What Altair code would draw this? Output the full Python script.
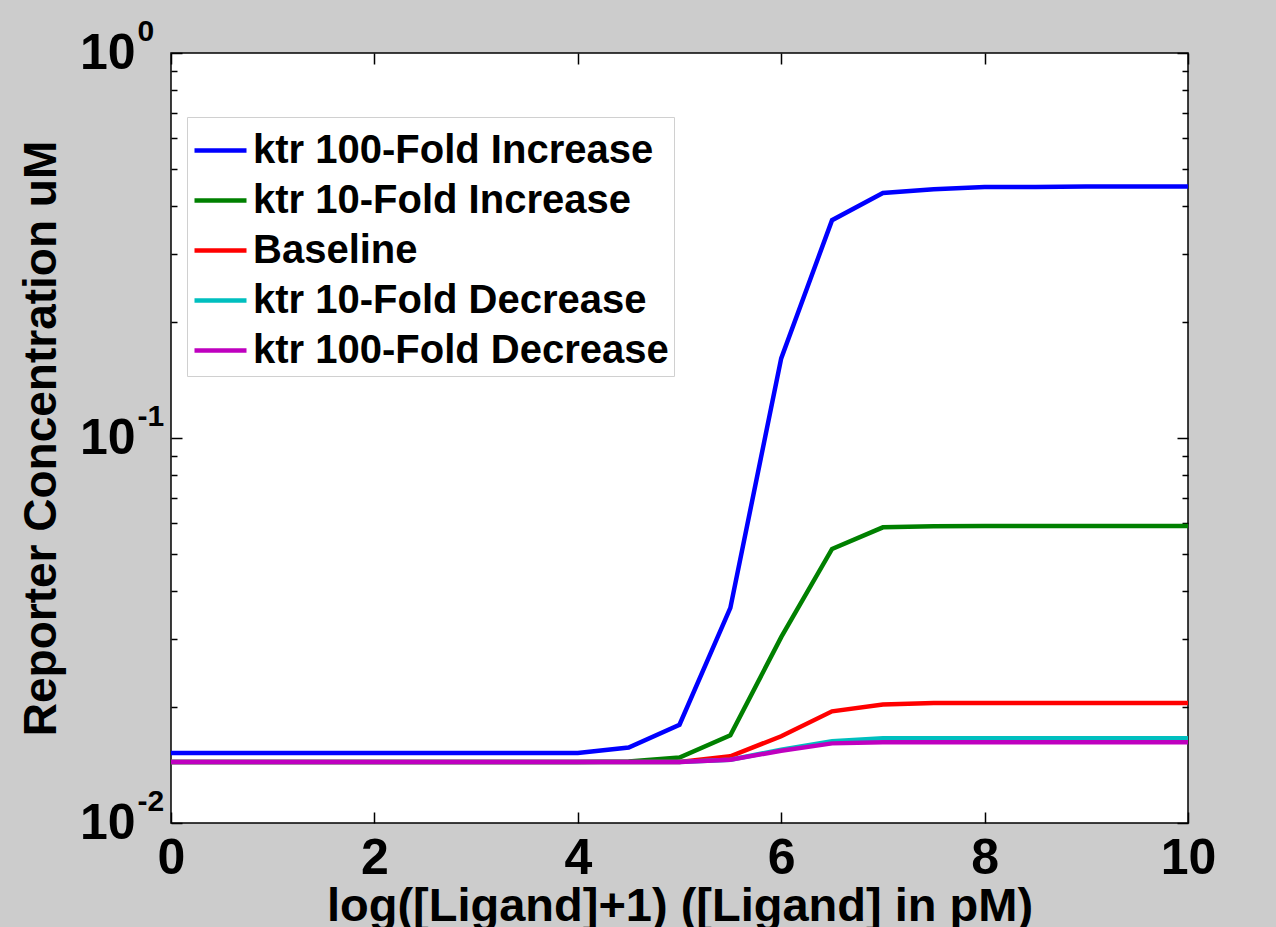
import altair as alt
import pandas as pd

# ---- data ----
x_vals = [0, 0.5, 1, 1.5, 2, 2.5, 3, 3.5, 4, 4.5, 5, 5.5, 6, 6.5, 7, 7.5, 8, 8.5, 9, 9.5, 10]

series_names = ["ktr 100-Fold Increase", "ktr 10-Fold Increase", "Baseline",
                "ktr 10-Fold Decrease", "ktr 100-Fold Decrease"]
series_colors = ["#0000ff", "#008000", "#ff0000", "#00bfbf", "#bf00bf"]

inc100 = [0.0152, 0.0152, 0.0152, 0.0152, 0.0152, 0.0152, 0.0152, 0.0152, 0.0152,
          0.0157, 0.0180, 0.0362, 0.161, 0.368, 0.433, 0.443, 0.449, 0.449, 0.450, 0.450, 0.450]
inc10 = [0.0144, 0.0144, 0.0144, 0.0144, 0.0144, 0.0144, 0.0144, 0.0144, 0.0144,
         0.01445, 0.0148, 0.0169, 0.0304, 0.0515, 0.0586, 0.0590, 0.0591, 0.0591, 0.0591, 0.0591, 0.0591]
baseline = [0.0144, 0.0144, 0.0144, 0.0144, 0.0144, 0.0144, 0.0144, 0.0144, 0.0144, 0.0144, 0.0144,
            0.0149, 0.0168, 0.0195, 0.0203, 0.0205, 0.0205, 0.0205, 0.0205, 0.0205, 0.0205]
dec10 = [0.0144, 0.0144, 0.0144, 0.0144, 0.0144, 0.0144, 0.0144, 0.0144, 0.0144, 0.0144, 0.0144,
         0.0146, 0.0155, 0.0163, 0.0166, 0.0166, 0.0166, 0.0166, 0.0166, 0.0166, 0.0166]
dec100 = [0.0144, 0.0144, 0.0144, 0.0144, 0.0144, 0.0144, 0.0144, 0.0144, 0.0144, 0.0144, 0.0144,
          0.0146, 0.0154, 0.0161, 0.0162, 0.0162, 0.0162, 0.0162, 0.0162, 0.0162, 0.0162]

x_ticks = [0, 2, 4, 6, 8, 10]
y_major = [0.01, 0.1, 1]
y_minor = [0.02, 0.03, 0.04, 0.05, 0.06, 0.07, 0.08, 0.09,
           0.2, 0.3, 0.4, 0.5, 0.6, 0.7, 0.8, 0.9]
y_exponents = ["-2", "-1", "0"]

x_title = "log([Ligand]+1) ([Ligand] in pM)"
y_title = "Reporter Concentration uM"

# ---- build table ----
rows = []
for name, vals in zip(series_names, [inc100, inc10, baseline, dec10, dec100]):
    for xv, yv in zip(x_vals, vals):
        rows.append({"x": xv, "y": yv, "series": name})
df = pd.DataFrame(rows)

FONT = "Liberation Sans"
xscale = alt.Scale(domain=[0, 10], nice=False, zero=False)
yscale = alt.Scale(type="log", domain=[0.01, 1], nice=False)

exp_expr = ("datum.value < 0.05 ? '%s' : (datum.value < 0.5 ? '%s' : '%s')"
            % (y_exponents[0], y_exponents[1], y_exponents[2]))

base = alt.Chart(df)

lines = base.mark_line(strokeWidth=4.5).encode(
    x=alt.X("x:Q", scale=xscale,
            axis=alt.Axis(orient="bottom", values=x_ticks, title=x_title, offset=-11,
                          tickSize=11, domain=False, grid=False, labelFlush=False,
                          labelFontSize=50, labelPadding=10, titleFontSize=47,
                          titlePadding=0)),
    y=alt.Y("y:Q", scale=yscale,
            axis=alt.Axis(orient="left", values=y_major, labelExpr="'10'", title=y_title,
                          offset=-11, tickSize=11, domain=False, grid=False,
                          labelFontSize=50, labelPadding=36, labelBaseline="middle",
                          titleFontSize=46, titlePadding=14)),
    color=alt.Color("series:N", scale=alt.Scale(domain=series_names, range=series_colors),
                    legend=alt.Legend(title=None, orient="none", legendX=16, legendY=64,
                                      fillColor="white", strokeColor="#d0d0d0", padding=5,
                                      symbolType="stroke", symbolSize=2704,
                                      symbolStrokeWidth=4.5, labelFontSize=40,
                                      labelFont=FONT, labelFontWeight="bold",
                                      labelColor="black", labelOffset=4, rowPadding=1,
                                      labelLimit=600)),
)

ghost = base.mark_point(opacity=0)

frame_major = ghost.encode(
    x=alt.X("x:Q", scale=xscale,
            axis=alt.Axis(orient="top", values=x_ticks, labels=False, title=None, offset=-11,
                          tickSize=11, domain=False, grid=False)),
    y=alt.Y("y:Q", scale=yscale,
            axis=alt.Axis(orient="right", values=y_major, labels=False, title=None,
                          offset=-11, tickSize=11, domain=False, grid=False)),
)

minor_left = ghost.encode(
    x=alt.X("x:Q", scale=xscale, axis=None),
    y=alt.Y("y:Q", scale=yscale,
            axis=alt.Axis(orient="left", values=y_minor, labels=False, title=None,
                          offset=-6, tickSize=6, domain=False, grid=False)),
)

minor_right = ghost.encode(
    x=alt.X("x:Q", scale=xscale, axis=None),
    y=alt.Y("y:Q", scale=yscale,
            axis=alt.Axis(orient="right", values=y_minor, labels=False, title=None,
                          offset=-6, tickSize=6, domain=False, grid=False)),
)

exponents = ghost.encode(
    x=alt.X("x:Q", scale=xscale, axis=None),
    y=alt.Y("y:Q", scale=yscale,
            axis=alt.Axis(orient="left", values=y_major, labelExpr=exp_expr, title=None,
                          ticks=False, tickSize=0, domain=False, grid=False,
                          labelAlign="left", labelBaseline="middle", labelFontSize=30,
                          labelPadding=34, labelOffset=-22)),
)

chart = alt.layer(lines, frame_major, minor_left, minor_right, exponents).resolve_axis(
    x="independent", y="independent"
).properties(
    width=1017, height=770, autosize="none", background="#cccccc",
    padding={"left": 171, "top": 53, "right": 88, "bottom": 104},
).configure_view(
    stroke="black", strokeWidth=1.5, fill="white"
).configure_axis(
    tickColor="black", tickWidth=1.5, labelColor="black", titleColor="black",
    labelFont=FONT, titleFont=FONT, labelFontWeight="bold", titleFontWeight="bold",
)

chart.save("out.html", embed_options={"renderer": "svg", "actions": False})
